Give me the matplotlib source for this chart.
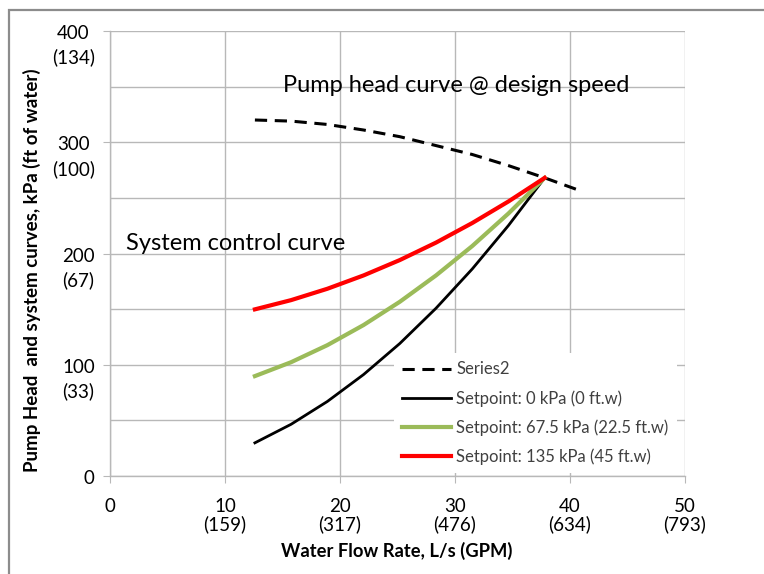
import matplotlib
matplotlib.use("Agg")
import matplotlib.pyplot as plt
from matplotlib.patches import Rectangle
from matplotlib.ticker import MultipleLocator
from matplotlib.transforms import ScaledTranslation

plt.rcParams['font.family'] = ['Lato', 'DejaVu Sans']

# Flow rate, L/s
flow_pump = [12.6, 15.75, 18.9, 22.05, 25.2, 28.35, 31.5, 34.65, 37.8, 41.0]
head_pump = [320, 319, 316, 311, 305, 297, 289, 279, 268, 256]

flow_sys = [12.6, 15.75, 18.9, 22.05, 25.2, 28.35, 31.5, 34.65, 37.8]
head_sp0 = [29.8, 46.5, 67.0, 91.2, 119.1, 150.8, 186.1, 225.2, 268]
head_sp67 = [89.8, 102.3, 117.6, 135.7, 156.6, 180.3, 206.7, 236.0, 268]
head_sp135 = [149.8, 158.1, 168.3, 180.3, 194.1, 209.8, 227.4, 246.8, 268]

series_names = ["Series2", "Setpoint: 0 kPa (0 ft.w)",
                "Setpoint: 67.5 kPa (22.5 ft.w)", "Setpoint: 135 kPa (45 ft.w)"]

x_ticks = [0, 10, 20, 30, 40, 50]
x_tick_labels = ["0", "10\n(159)", "20\n(317)", "30\n(476)", "40\n(634)", "50\n(793)"]
y_ticks = [0, 100, 200, 300, 400]
y_tick_labels = ["0", "100\n(33)", "200\n(67)", "300\n(100)", "400\n(134)"]

W, H = 764, 574
fig = plt.figure(figsize=(W / 100, H / 100), dpi=100)

def px(x, y):
    """Pixel position (from top-left) to figure fraction."""
    return x / W, 1 - y / H

# chart frame
fig.patches.append(Rectangle((9 / W, -0.1), 2.0, 1 - 10 / H + 0.1,
                             transform=fig.transFigure, fill=False,
                             edgecolor='#8c8c8c', linewidth=1.6, zorder=0))

ax = fig.add_axes([110 / W, 1 - 476 / H, 575 / W, 445 / H])
ax.set_xlim(0, 50)
ax.set_ylim(0, 400)

grid_c = '#b8b8b8'
ax.xaxis.set_major_locator(MultipleLocator(10))
ax.yaxis.set_major_locator(MultipleLocator(100))
ax.yaxis.set_minor_locator(MultipleLocator(50))
ax.grid(True, which='both', color=grid_c, linewidth=1.0)
ax.set_axisbelow(True)
for s in ['top', 'right']:
    ax.spines[s].set_visible(False)
for s in ['left', 'bottom']:
    ax.spines[s].set_color(grid_c)
    ax.spines[s].set_linewidth(1.0)
ax.tick_params(axis='both', which='major', direction='out', length=5,
               color=grid_c, labelsize=13.5)
ax.tick_params(axis='y', which='minor', length=0)
ax.tick_params(axis='x', pad=11)
ax.tick_params(axis='y', pad=6)

ax.set_xticks(x_ticks)
ax.set_xticklabels(x_tick_labels, linespacing=1.0)
ax.set_yticks(y_ticks)
ax.set_yticklabels(y_tick_labels, linespacing=1.45)
shift_up = ScaledTranslation(0, 6 / 100, fig.dpi_scale_trans)
for lab in ax.get_yticklabels():
    lab.set_multialignment('center')
    lab.set_verticalalignment('top')
    lab.set_transform(lab.get_transform() + shift_up)

ax.plot(flow_pump, head_pump, color='black', linewidth=2.2,
        linestyle=(0, (4, 2.5)), label=series_names[0])
ax.plot(flow_sys, head_sp0, color='black', linewidth=2.0, label=series_names[1])
ax.plot(flow_sys, head_sp67, color='#9BBB59', linewidth=3.0, label=series_names[2])
ax.plot(flow_sys, head_sp135, color='#FF0000', linewidth=3.0, label=series_names[3])

leg = ax.legend(loc='lower right', bbox_to_anchor=(1.0 - 8 / 575, 3 / 445),
                frameon=True, fancybox=False, framealpha=1.0, facecolor='white',
                edgecolor='none', fontsize=12, handlelength=2.9,
                handletextpad=0.35, labelspacing=0.75, borderpad=0.5,
                borderaxespad=0)
for t in leg.get_texts():
    t.set_color('#404040')

fig.text(*px(283, 86), "Pump head curve @ design speed",
         fontsize=17, va='center', ha='left')
fig.text(*px(126, 243), "System control curve",
         fontsize=17, va='center', ha='left')

ax.set_xlabel("Water Flow Rate, L/s (GPM)", fontsize=13.2, fontweight='bold',
              va='center')
ax.xaxis.set_label_coords((397 - 110) / 575, (476 - 551) / 445)
ax.set_ylabel("Pump Head  and system curves, kPa (ft of water)", fontsize=13.5,
              fontweight='bold', va='center')
ax.yaxis.set_label_coords((32 - 110) / 575, (476 - 270) / 445)

fig.savefig("out.png", dpi=100)
